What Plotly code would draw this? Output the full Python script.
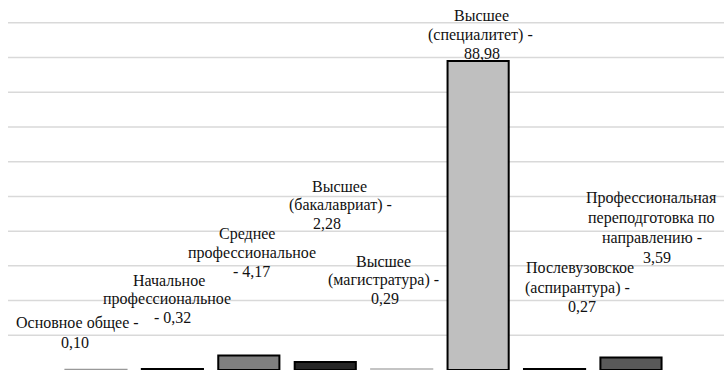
import plotly.graph_objects as go

# Share of staff by level of education, %
categories = [
    "Основное общее",
    "Начальное профессиональное",
    "Среднее профессиональное",
    "Высшее (бакалавриат)",
    "Высшее (магистратура)",
    "Высшее (специалитет)",
    "Послевузовское (аспирантура)",
    "Профессиональная переподготовка по направлению",
]
values = [0.10, 0.32, 4.17, 2.28, 0.29, 88.98, 0.27, 3.59]
grid_levels = [10, 20, 30, 40, 50, 60, 70, 80, 90, 100]

# wrapped label text; "{v}" is replaced by the formatted value
label_lines = [
    ["Основное общее -", "{v}"],
    ["Начальное", "профессиональное", "- {v}"],
    ["Среднее", "профессиональное", "- {v}"],
    ["Высшее", "(бакалавриат) -", "{v}"],
    ["Высшее", "(магистратура) -", "{v}"],
    ["Высшее", "(специалитет) -", "{v}"],
    ["Послевузовское", "(аспирантура) -", "{v}"],
    ["Профессиональная", "переподготовка по", "направлению -", "{v}"],
]

# style
fill_colors = ["#b3b3b3", "#111111", "#808080", "#262626", "#d9d9d9", "#bfbfbf", "#111111", "#595959"]
line_colors = ["#999999", "#000000", "#000000", "#000000", "#c4c4c4", "#000000", "#000000", "#000000"]
FONT = "Times New Roman"

W, H = 724, 370
Y_MAX = 106
PX_PER_UNIT = 3.47
M_L, M_R, M_B = 8, 0, 0
M_T = round(H - M_B - Y_MAX * PX_PER_UNIT)
PW, PH = W - M_L - M_R, H - M_T - M_B

# label placement (pixel centres of each line)
label_pos = [
    [(77, 323), (75, 342)],
    [(169, 280), (167, 299), (172, 317)],
    [(247, 234), (252, 253), (252, 271)],
    [(339, 186), (340, 205), (327, 223)],
    [(383, 261), (383, 280), (385, 298)],
    [(481, 16), (480, 35), (482, 53)],
    [(580, 268), (577, 288), (582, 306)],
    [(651, 198), (651, 218), (652, 238), (657, 257)],
]


def fmt(v):
    return f"{v:.2f}".replace(".", ",")


fig = go.Figure(
    go.Bar(
        x=categories,
        y=values,
        marker=dict(color=fill_colors, line=dict(color=line_colors, width=2)),
        hoverinfo="skip",
    )
)

# horizontal grid, drawn beneath the bars
for level in grid_levels:
    fig.add_shape(
        type="line",
        xref="paper",
        yref="y",
        x0=0,
        x1=1,
        y0=level,
        y1=level,
        line=dict(color="#d9d9d9", width=1.5),
        layer="below",
    )

for lines, pos, v in zip(label_lines, label_pos, values):
    for text, (px, py) in zip(lines, pos):
        fig.add_annotation(
            text=text.replace("{v}", fmt(v)),
            x=(px - M_L) / PW,
            y=(H - M_B - py) / PH,
            xref="paper",
            yref="paper",
            xanchor="center",
            yanchor="middle",
            showarrow=False,
            font=dict(family=FONT, size=16, color="#111111"),
        )

fig.update_layout(
    width=W,
    height=H,
    margin=dict(l=M_L, r=M_R, t=M_T, b=M_B),
    paper_bgcolor="white",
    plot_bgcolor="white",
    showlegend=False,
    bargap=0.2,
    xaxis=dict(
        range=[-1.151, 8.217],
        showticklabels=False,
        showgrid=False,
        showline=False,
        zeroline=False,
        ticks="",
    ),
    yaxis=dict(
        range=[0, Y_MAX],
        showticklabels=False,
        showgrid=False,
        zeroline=False,
        showline=False,
        ticks="",
    ),
)

fig.write_html("out.html")
